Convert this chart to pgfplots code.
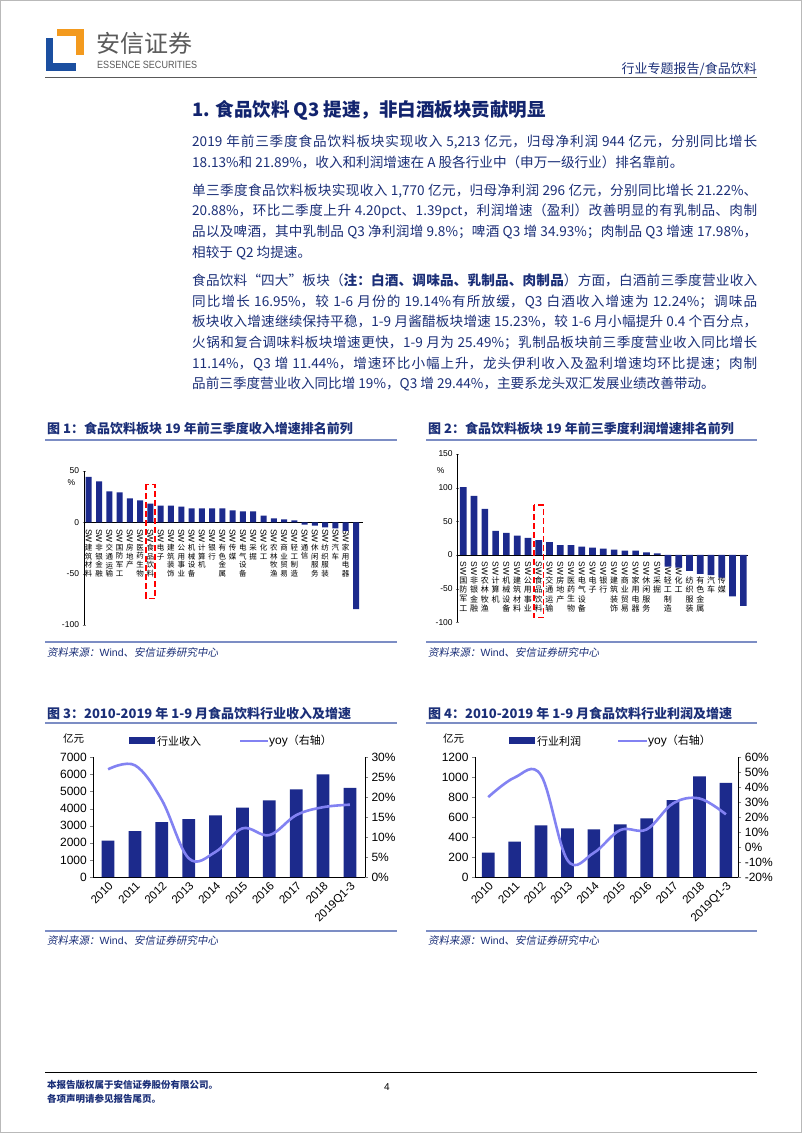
\documentclass[border=0pt]{standalone}
\usepackage{pgfplots}
\pgfplotsset{compat=1.18}
\usepackage{graphicx}
\usepackage{fontspec}
\setmainfont{Noto Sans CJK SC}
\newfontfamily\latin{Liberation Sans}
\newfontfamily\srcfont{Noto Sans CJK SC}[FakeSlant=0.18]
\XeTeXlinebreaklocale "zh"
\XeTeXlinebreakskip=0pt plus 1.5pt
\tolerance=10000
\emergencystretch=20bp
\definecolor{barblue}{HTML}{1C2A8C}
\definecolor{linecol}{HTML}{8282F2}
\definecolor{navy}{HTML}{1B2F78}
\definecolor{titlenavy}{HTML}{12246E}
\definecolor{rulecol}{HTML}{7C8DC4}
\definecolor{logoblue}{HTML}{1B4FA0}
\definecolor{logoorange}{HTML}{F39A1E}
\definecolor{logogray}{HTML}{5A5A5A}
\makeatletter
\newcommand\vchars[2]{\@tfor\@vc:=#2\do{\hbox to 10bp{\hss\textcolor{#1}{\@vc}\hss}}}
\makeatother
\newcommand\vlskip{8.7bp}
\newcommand\vlswfont{\latin\fontsize{8.5bp}{9bp}\selectfont}
\newcommand\vlabgen[3]{\vbox{\lineskiplimit=0pt\lineskip=1.5bp\baselineskip=\vlskip\relax\hbox to 10bp{\hss\textcolor{#1}{\rotatebox{-90}{\vlswfont SW}}\hss}\vchars{#2}{#3}}}
\newcommand\vl[1]{\vlabgen{black}{black}{#1}}
\newcommand\vlw[1]{\vlabgen{white}{white}{#1}}
\newcommand\vls[1]{\vlabgen{white}{black}{#1}}
\pgfplotsset{
  every axis/.append style={scale only axis, anchor=south west,
    /pgf/number format/assume math mode=true, /pgf/number format/1000 sep={}},
  dualbase/.style={axis line style={-, line width=0.7bp}, major tick length=3bp, tick align=outside,
    yticklabel style={font=\latin\fontsize{12bp}{12bp}\selectfont}},
}
\begin{document}
\begin{tikzpicture}
\begin{scope}[x=1bp,y=1bp]
% page
\fill[white] (0,0) rectangle (802,-1133);
\draw[gray!55, line width=1.2bp] (0.6,-0.6) rectangle (801.4,-1132.4);
% logo
\fill[logoblue] (46,-38) rectangle (53,-71);
\fill[logoblue] (46,-63) rectangle (76,-71);
\fill[logoorange] (57,-29) rectangle (84,-36);
\fill[logoorange] (76,-29) rectangle (84,-55);
\node[anchor=west, inner sep=0, text=logogray, font=\fontsize{24bp}{24bp}\selectfont] at (96,-43) {安信证券};
\node[anchor=west, inner sep=0, text=logogray] at (97,-64.7) {\resizebox{100bp}{7.3bp}{\latin ESSENCE SECURITIES}};
\node[anchor=east, inner sep=0, text=navy, font=\fontsize{13bp}{13bp}\selectfont] at (757,-69) {行业专题报告/食品饮料};
\draw[gray!70!black, line width=1.3bp] (45,-77.5) -- (757,-77.5);
% title
\node[anchor=west, inner sep=0, text=titlenavy, font=\bfseries\fontsize{18.5bp}{19bp}\selectfont] at (192,-110) {1. 食品饮料 Q3 提速，非白酒板块贡献明显};
% paragraphs
\tikzset{para/.style={anchor=north west, inner sep=0, text width=565bp, align=justify, text=navy, font=\fontsize{13.6bp}{20.7bp}\selectfont}}
\node[para] at (192,-135) {2019 年前三季度食品饮料板块实现收入 5,213 亿元，归母净利润 944 亿元，分别同比增长\linebreak 18.13\%和 21.89\%，收入和利润增速在 A 股各行业中（申万一级行业）排名靠前。};
\node[para] at (192,-183.5) {单三季度食品饮料板块实现收入 1,770 亿元，归母净利润 296 亿元，分别同比增长 21.22\%、\linebreak 20.88\%，环比二季度上升 4.20pct、1.39pct，利润增速（盈利）改善明显的有乳制品、肉制\linebreak 品以及啤酒，其中乳制品 Q3 净利润增 9.8\%；啤酒 Q3 增 34.93\%；肉制品 Q3 增速 17.98\%，\linebreak 相较于 Q2 均提速。};
\node[para] at (192,-273.5) {食品饮料“四大”板块（\textbf{注：白酒、调味品、乳制品、肉制品}）方面，白酒前三季度营业收入\linebreak 同比增长 16.95\%，较 1-6 月份的 19.14\%有所放缓，Q3 白酒收入增速为 12.24\%；调味品\linebreak 板块收入增速继续保持平稳，1-9 月酱醋板块增速 15.23\%，较 1-6 月小幅提升 0.4 个百分点，\linebreak 火锅和复合调味料板块增速更快，1-9 月为 25.49\%；乳制品板块前三季度营业收入同比增长\linebreak 11.14\%，Q3 增 11.44\%，增速环比小幅上升，龙头伊利收入及盈利增速均环比提速；肉制\linebreak 品前三季度营业收入同比增 19\%，Q3 增 29.44\%，主要系龙头双汇发展业绩改善带动。};
% figure titles and rules
\tikzset{ftitle/.style={anchor=west, inner sep=0, text=navy, font=\bfseries\fontsize{13bp}{13bp}\selectfont},
  fsrc/.style={anchor=west, inner sep=0, text=navy, font=\srcfont\fontsize{10.5bp}{11bp}\selectfont}}
\node[ftitle] at (47,-429) {图 1：食品饮料板块 19 年前三季度收入增速排名前列};
\node[ftitle] at (428,-429) {图 2：食品饮料板块 19 年前三季度利润增速排名前列};
\draw[rulecol, line width=1.6bp] (45,-440) -- (397,-440);
\draw[rulecol, line width=1.6bp] (426,-440) -- (757,-440);
\draw[rulecol, line width=1.6bp] (45,-642) -- (397,-642);
\draw[rulecol, line width=1.6bp] (426,-642) -- (757,-642);
\node[fsrc] at (47,-652) {资料来源：\latin Wind\srcfont、安信证券研究中心};
\node[fsrc] at (428,-652) {资料来源：\latin Wind\srcfont、安信证券研究中心};
\node[ftitle] at (47,-713) {图 3：2010-2019 年 1-9 月食品饮料行业收入及增速};
\node[ftitle] at (428,-713) {图 4：2010-2019 年 1-9 月食品饮料行业利润及增速};
\draw[rulecol, line width=1.6bp] (45,-723) -- (397,-723);
\draw[rulecol, line width=1.6bp] (426,-723) -- (757,-723);
\draw[rulecol, line width=1.6bp] (45,-931) -- (397,-931);
\draw[rulecol, line width=1.6bp] (426,-931) -- (757,-931);
\node[fsrc] at (47,-940) {资料来源：\latin Wind\srcfont、安信证券研究中心};
\node[fsrc] at (428,-940) {资料来源：\latin Wind\srcfont、安信证券研究中心};
% footer
\draw[black, line width=1bp] (45,-1072) -- (757,-1072);
\node[anchor=west, inner sep=0, text=navy, font=\bfseries\fontsize{9.5bp}{10bp}\selectfont] at (47,-1085) {本报告版权属于安信证券股份有限公司。};
\node[anchor=west, inner sep=0, text=navy, font=\bfseries\fontsize{9.5bp}{10bp}\selectfont] at (47,-1099) {各项声明请参见报告尾页。};
\node[inner sep=0, font=\latin\fontsize{10bp}{10bp}\selectfont] at (387,-1087) {4};
% chart annotations
\node[inner sep=0, font=\latin\fontsize{8.5bp}{9bp}\selectfont] at (71.5,-483) {\%};
\node[inner sep=0, font=\latin\fontsize{8.5bp}{9bp}\selectfont] at (440.7,-470.7) {\%};
\node[anchor=west, inner sep=0, font=\fontsize{10.5bp}{11bp}\selectfont] at (63,-738) {亿元};
\fill[barblue] (129,-737) rectangle (155,-744);
\node[anchor=west, inner sep=0, font=\fontsize{11bp}{11bp}\selectfont] at (157,-741) {行业收入};
\draw[linecol, line width=2.6bp] (240,-741) -- (268,-741);
\node[anchor=west, inner sep=0, font=\fontsize{11bp}{11bp}\selectfont] at (269,-741) {{\latin\fontsize{12bp}{12bp}\selectfont yoy}（右轴）};
\node[anchor=west, inner sep=0, font=\fontsize{10.5bp}{11bp}\selectfont] at (443,-738) {亿元};
\fill[barblue] (509,-737) rectangle (535,-744);
\node[anchor=west, inner sep=0, font=\fontsize{11bp}{11bp}\selectfont] at (537,-741) {行业利润};
\draw[linecol, line width=2.6bp] (618,-741) -- (647,-741);
\node[anchor=west, inner sep=0, font=\fontsize{11bp}{11bp}\selectfont] at (648,-741) {{\latin\fontsize{12bp}{12bp}\selectfont yoy}（右轴）};
\end{scope}

% ---------- chart 1 ----------
\begin{axis}[at={(84bp,-625bp)}, width=278.6bp, height=154bp,
  xmin=-0.46, xmax=26.64, ymin=-100, ymax=50,
  axis y line=left, axis x line=middle, axis line style={-, line width=0.7bp},
  hide obscured x ticks=false, hide obscured y ticks=false,
  ytick={-100,-50,0,50}, major tick length=3bp,
  yticklabel style={font=\latin\fontsize{8.5bp}{9bp}\selectfont},
  xtick={0,...,26}, major x tick style={draw=none},
  xticklabels={\vl{建筑材料},\vl{非银金融},\vl{交通运输},\vl{国防军工},\vl{房地产},\vl{医药生物},\vl{食品饮料},\vl{电子},\vl{建筑装饰},\vl{公用事业},\vl{机械设备},\vl{计算机},\vl{银行},\vl{有色金属},\vl{传媒},\vl{电气设备},\vl{采掘},\vl{化工},\vl{农林牧渔},\vl{商业贸易},\vl{轻工制造},\vl{通信},\vl{休闲服务},\vl{纺织服装},\vl{汽车},\vl{家用电器},\vlw{综合}},
  xticklabel style={anchor=north, inner sep=0pt, yshift=-5bp, font=\fontsize{7.5bp}{8.7bp}\selectfont},
  clip=false]
\addplot[ybar, bar width=6bp, fill=barblue, draw=none] coordinates {
(0,44.2) (1,40.0) (2,30.2) (3,29.2) (4,23.4) (5,21.4) (6,18.13) (7,16.2) (8,16.2) (9,15.3)
(10,13.6) (11,13.6) (12,13.6) (13,13.6) (14,11.7) (15,10.7) (16,10.7) (17,6.5) (18,3.9) (19,2.9)
(20,1.9) (21,-2.3) (22,-3.2) (23,-4.9) (24,-5.8) (25,-8.4) (26,-84.4)};
\draw[red, line width=1.5bp, dash pattern=on 6bp off 3bp] (axis cs:5.55,37) rectangle (axis cs:6.45,-74);
\end{axis}

% ---------- chart 2 ----------
\begin{axis}[at={(457.7bp,-622.3bp)}, width=290.6bp, height=168.3bp,
  xmin=-0.52, xmax=26.46, ymin=-100, ymax=150,
  axis y line=left, axis x line=middle, axis line style={-, line width=0.7bp},
  hide obscured x ticks=false, hide obscured y ticks=false,
  ytick={-100,-50,0,50,100,150}, major tick length=3bp,
  yticklabel style={font=\latin\fontsize{8.5bp}{9bp}\selectfont},
  xtick={0,...,26}, major x tick style={draw=none},
  xticklabels={\vl{国防军工},\vl{非银金融},\vl{农林牧渔},\vl{计算机},\vl{机械设备},\vl{建筑材料},\vl{公用事业},\vl{食品饮料},\vl{交通运输},\vl{房地产},\vl{医药生物},\vl{电气设备},\vl{电子},\vl{银行},\vl{建筑装饰},\vl{商业贸易},\vl{家用电器},\vl{休闲服务},\vl{采掘},\vl{轻工制造},\vl{化工},\vls{纺织服装},\vls{有色金属},\vls{汽车},\vls{传媒},\vlw{钢铁},\vlw{综合}},
  xticklabel style={anchor=north, inner sep=0pt, yshift=-5bp, font=\fontsize{8bp}{9.3bp}\selectfont\def\vlskip{9.3bp}},
  clip=false]
\addplot[ybar, bar width=6.7bp, fill=barblue, draw=none] coordinates {
(0,101) (1,87.7) (2,68.5) (3,36) (4,33) (5,28.6) (6,25.6) (7,22) (8,19.2) (9,14.8)
(10,14.8) (11,12.3) (12,10.8) (13,9.4) (14,7.9) (15,6.4) (16,6.4) (17,3.9) (18,2.5) (19,-17.2)
(20,-18.7) (21,-23.6) (22,-28) (23,-30) (24,-33.5) (25,-61.6) (26,-75.4)};
\draw[red, line width=1.5bp, dash pattern=on 6bp off 3bp] (axis cs:6.55,74) rectangle (axis cs:7.45,-93);
\end{axis}

% ---------- chart 3 ----------
\begin{axis}[dualbase, at={(93.3bp,-877bp)}, width=271.7bp, height=119.7bp,
  xmin=-0.55, xmax=9.56, ymin=0, ymax=7000,
  axis y line*=left, axis x line*=bottom,
  ytick={0,1000,...,7000},
  xtick={0,...,9}, major x tick style={draw=none},
  xticklabels={2010,2011,2012,2013,2014,2015,2016,2017,2018,2019Q1-3},
  xticklabel style={rotate=45, anchor=north east, inner sep=0.5pt, font=\latin\fontsize{11.5bp}{12bp}\selectfont}]
\addplot[ybar, bar width=12.7bp, fill=barblue, draw=none] coordinates {
(0,2125) (1,2691) (2,3217) (3,3393) (4,3607) (5,4056) (6,4485) (7,5128) (8,6006) (9,5213)};
\end{axis}
\begin{axis}[dualbase, at={(93.3bp,-877bp)}, width=271.7bp, height=119.7bp,
  xmin=-0.55, xmax=9.56, ymin=0, ymax=30,
  axis y line*=right, axis x line=none,
  ytick={0,5,...,30}, yticklabel={\pgfmathprintnumber{\tick}\%}]
\addplot[smooth, tension=0.6, no markers, line width=2.6bp, color=linecol] coordinates {
(0,27.0) (1,28.0) (2,19.3) (3,4.7) (4,6.3) (5,12.2) (6,10.5) (7,15.5) (8,17.5) (9,18.13)};
\end{axis}

% ---------- chart 4 ----------
\begin{axis}[dualbase, at={(475bp,-877bp)}, width=263.3bp, height=119.7bp,
  xmin=-0.5, xmax=9.47, ymin=0, ymax=1200,
  axis y line*=left, axis x line*=bottom,
  ytick={0,200,...,1200},
  xtick={0,...,9}, major x tick style={draw=none},
  xticklabels={2010,2011,2012,2013,2014,2015,2016,2017,2018,2019Q1-3},
  xticklabel style={rotate=45, anchor=north east, inner sep=0.5pt, font=\latin\fontsize{11.5bp}{12bp}\selectfont}]
\addplot[ybar, bar width=12.7bp, fill=barblue, draw=none] coordinates {
(0,244) (1,354) (2,518) (3,488) (4,478) (5,528) (6,588) (7,772) (8,1009) (9,944)};
\end{axis}
\begin{axis}[dualbase, at={(475bp,-877bp)}, width=263.3bp, height=119.7bp,
  xmin=-0.5, xmax=9.47, ymin=-20, ymax=60,
  axis y line*=right, axis x line=none,
  ytick={-20,-10,...,60}, yticklabel={\pgfmathprintnumber{\tick}\%}]
\addplot[smooth, tension=0.6, no markers, line width=2.6bp, color=linecol] coordinates {
(0,33.4) (1,46.5) (2,48.0) (3,-8.7) (4,-3.8) (5,11.4) (6,11.8) (7,29.2) (8,32.5) (9,21.89)};
\end{axis}
\end{tikzpicture}
\end{document}
